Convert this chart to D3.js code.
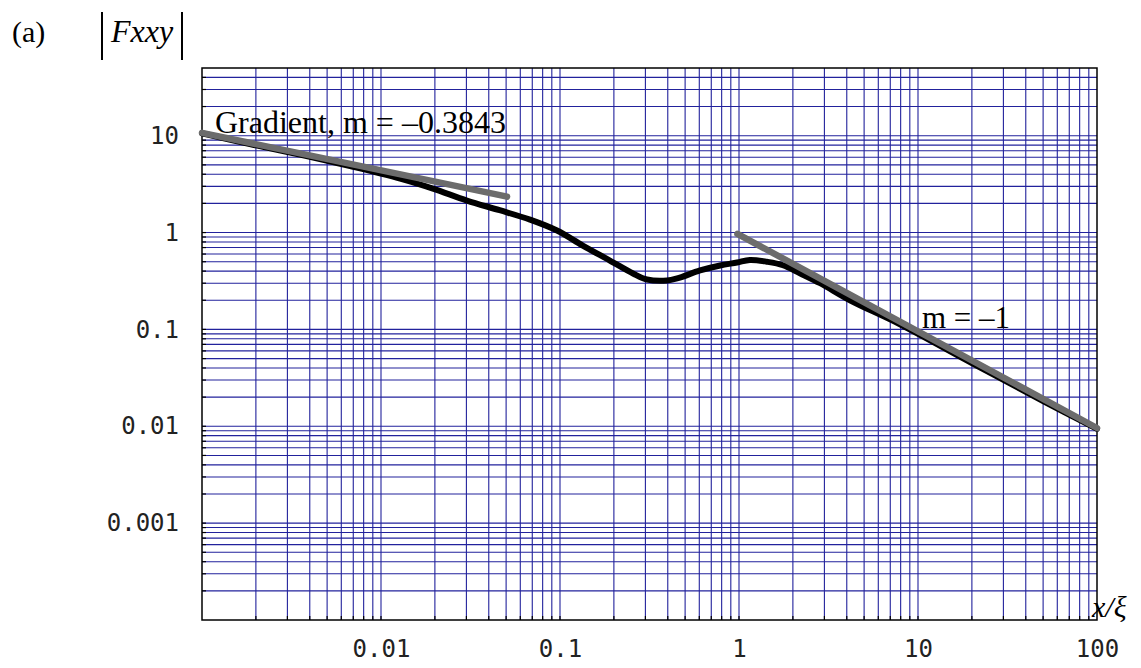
<!DOCTYPE html>
<html>
<head>
<meta charset="utf-8">
<script src="https://cdn.jsdelivr.net/npm/d3@7"></script>
<style>
  html, body { margin: 0; padding: 0; background: #fff; }
  svg { display: block; }
</style>
</head>
<body>
<svg id="chart" width="1141" height="668"></svg>
<script>
// Axis ranges and labelled ticks
const xDomain = [0.001, 100];
const yDomain = [0.0001, 50];
const xTickLabels = [0.01, 0.1, 1, 10, 100];
const yTickLabels = [10, 1, 0.1, 0.01, 0.001];

// Measured |Fxxy| against x/xi
const curveX = [0.001, 0.00185, 0.00352, 0.00673, 0.0128, 0.0195, 0.0302, 0.046, 0.068, 0.0962,
                0.134, 0.19, 0.256, 0.306, 0.396, 0.451, 0.606, 0.784, 0.975, 1.15,
                1.43, 1.76, 2.19, 2.84, 4.17, 7.93, 20, 50, 100];
const curveY = [10.6, 8.2, 6.4, 4.85, 3.6, 2.84, 2.14, 1.7, 1.36, 1.05,
                0.734, 0.514, 0.378, 0.328, 0.32, 0.336, 0.406, 0.457, 0.491, 0.522,
                0.5, 0.46, 0.38, 0.3, 0.2, 0.113, 0.045, 0.0182, 0.0094];

// Straight-line fits (gradient m = -0.3843 at small x, m = -1 at large x)
const fitLowX = [0.001, 0.0506];
const fitLowY = [10.7, 2.35];
const fitHighX = [0.98, 100];
const fitHighY = [0.97, 0.0096];

const svg = d3.select("#chart");
const margin = { left: 202, right: 1097, top: 68, bottom: 620 };

const x = d3.scaleLog().domain(xDomain).range([margin.left, margin.right]);
const y = d3.scaleLog().domain(yDomain).range([margin.bottom, margin.top]);

const gridColor = "#22229c";
const serif = "'Liberation Serif', 'Times New Roman', serif";
const mono = "'DejaVu Sans Mono', monospace";

const inner = (dom) => v => v > dom[0] * 1.0001 && v < dom[1] * 0.9999;
const xMinor = x.ticks().filter(inner(xDomain));
const yMinor = y.ticks().filter(inner(yDomain));

// Grid lines at every 1..9 x 10^n
const grid = svg.append("g").attr("stroke", gridColor).attr("stroke-width", 1.1);
grid.selectAll("line.v").data(xMinor).join("line").attr("class", "v")
  .attr("x1", d => x(d)).attr("x2", d => x(d))
  .attr("y1", margin.top).attr("y2", margin.bottom);
grid.selectAll("line.h").data(yMinor).join("line").attr("class", "h")
  .attr("y1", d => y(d)).attr("y2", d => y(d))
  .attr("x1", margin.left).attr("x2", margin.right);

// Small black ticks along the bottom and left edges
const ticks = svg.append("g").attr("stroke", "#000").attr("stroke-width", 1.2);
ticks.selectAll("line.bt").data(xMinor).join("line").attr("class", "bt")
  .attr("x1", d => x(d)).attr("x2", d => x(d))
  .attr("y1", margin.bottom).attr("y2", margin.bottom - 4);
ticks.selectAll("line.lt").data(yMinor).join("line").attr("class", "lt")
  .attr("y1", d => y(d)).attr("y2", d => y(d))
  .attr("x1", margin.left).attr("x2", margin.left + 4);

// Frame
svg.append("rect")
  .attr("x", margin.left).attr("y", margin.top)
  .attr("width", margin.right - margin.left).attr("height", margin.bottom - margin.top)
  .attr("fill", "none").attr("stroke", "#000").attr("stroke-width", 1.5);

// Axis labels
const xAxis = svg.append("g")
  .attr("transform", `translate(0,${margin.bottom})`)
  .call(d3.axisBottom(x).tickValues(xTickLabels).tickSize(0).tickPadding(20)
        .tickFormat(d => String(d)));
const yAxis = svg.append("g")
  .attr("transform", `translate(${margin.left},0)`)
  .call(d3.axisLeft(y).tickValues(yTickLabels).tickSize(0).tickPadding(23)
        .tickFormat(d => String(d)));
[xAxis, yAxis].forEach(g => {
  g.select(".domain").remove();
  g.selectAll("text").attr("font-family", mono).attr("font-size", 24).attr("fill", "#222");
});

// Curves
const line = (xs, ys, curve) => d3.line()
  .x((d, i) => x(xs[i])).y((d, i) => y(ys[i]))
  .curve(curve)(xs);

svg.append("path")
  .attr("d", line(curveX, curveY, d3.curveCatmullRom.alpha(0.5)))
  .attr("fill", "none").attr("stroke", "#000").attr("stroke-width", 6)
  .attr("stroke-linejoin", "round").attr("stroke-linecap", "round");

[[fitLowX, fitLowY], [fitHighX, fitHighY]].forEach(([xs, ys]) => {
  svg.append("path")
    .attr("d", line(xs, ys, d3.curveLinear))
    .attr("fill", "none").attr("stroke", "#6c6c6c").attr("stroke-width", 6.5)
    .attr("stroke-linecap", "round");
});

// Annotations
svg.append("text").attr("x", 215).attr("y", 133)
  .attr("font-family", serif).attr("font-size", 32).attr("fill", "#000")
  .text("Gradient, m = \u20130.3843");
svg.append("text").attr("x", 922).attr("y", 328)
  .attr("font-family", serif).attr("font-size", 31).attr("fill", "#000")
  .text("m = \u20131");

// Axis titles
svg.append("text").attr("x", 12).attr("y", 42)
  .attr("font-family", serif).attr("font-size", 30).attr("fill", "#000")
  .text("(a)");
svg.append("text").attr("x", 111).attr("y", 42)
  .attr("font-family", serif).attr("font-size", 32).attr("font-style", "italic").attr("fill", "#000")
  .text("Fxxy");
svg.append("g").attr("stroke", "#000").attr("stroke-width", 2)
  .selectAll("line").data([102, 182]).join("line")
  .attr("x1", d => d).attr("x2", d => d).attr("y1", 12).attr("y2", 60);
svg.append("text").attr("x", 1092).attr("y", 617)
  .attr("font-family", serif).attr("font-size", 30).attr("font-style", "italic").attr("fill", "#000")
  .text("x/\u03be");
</script>
</body>
</html>
